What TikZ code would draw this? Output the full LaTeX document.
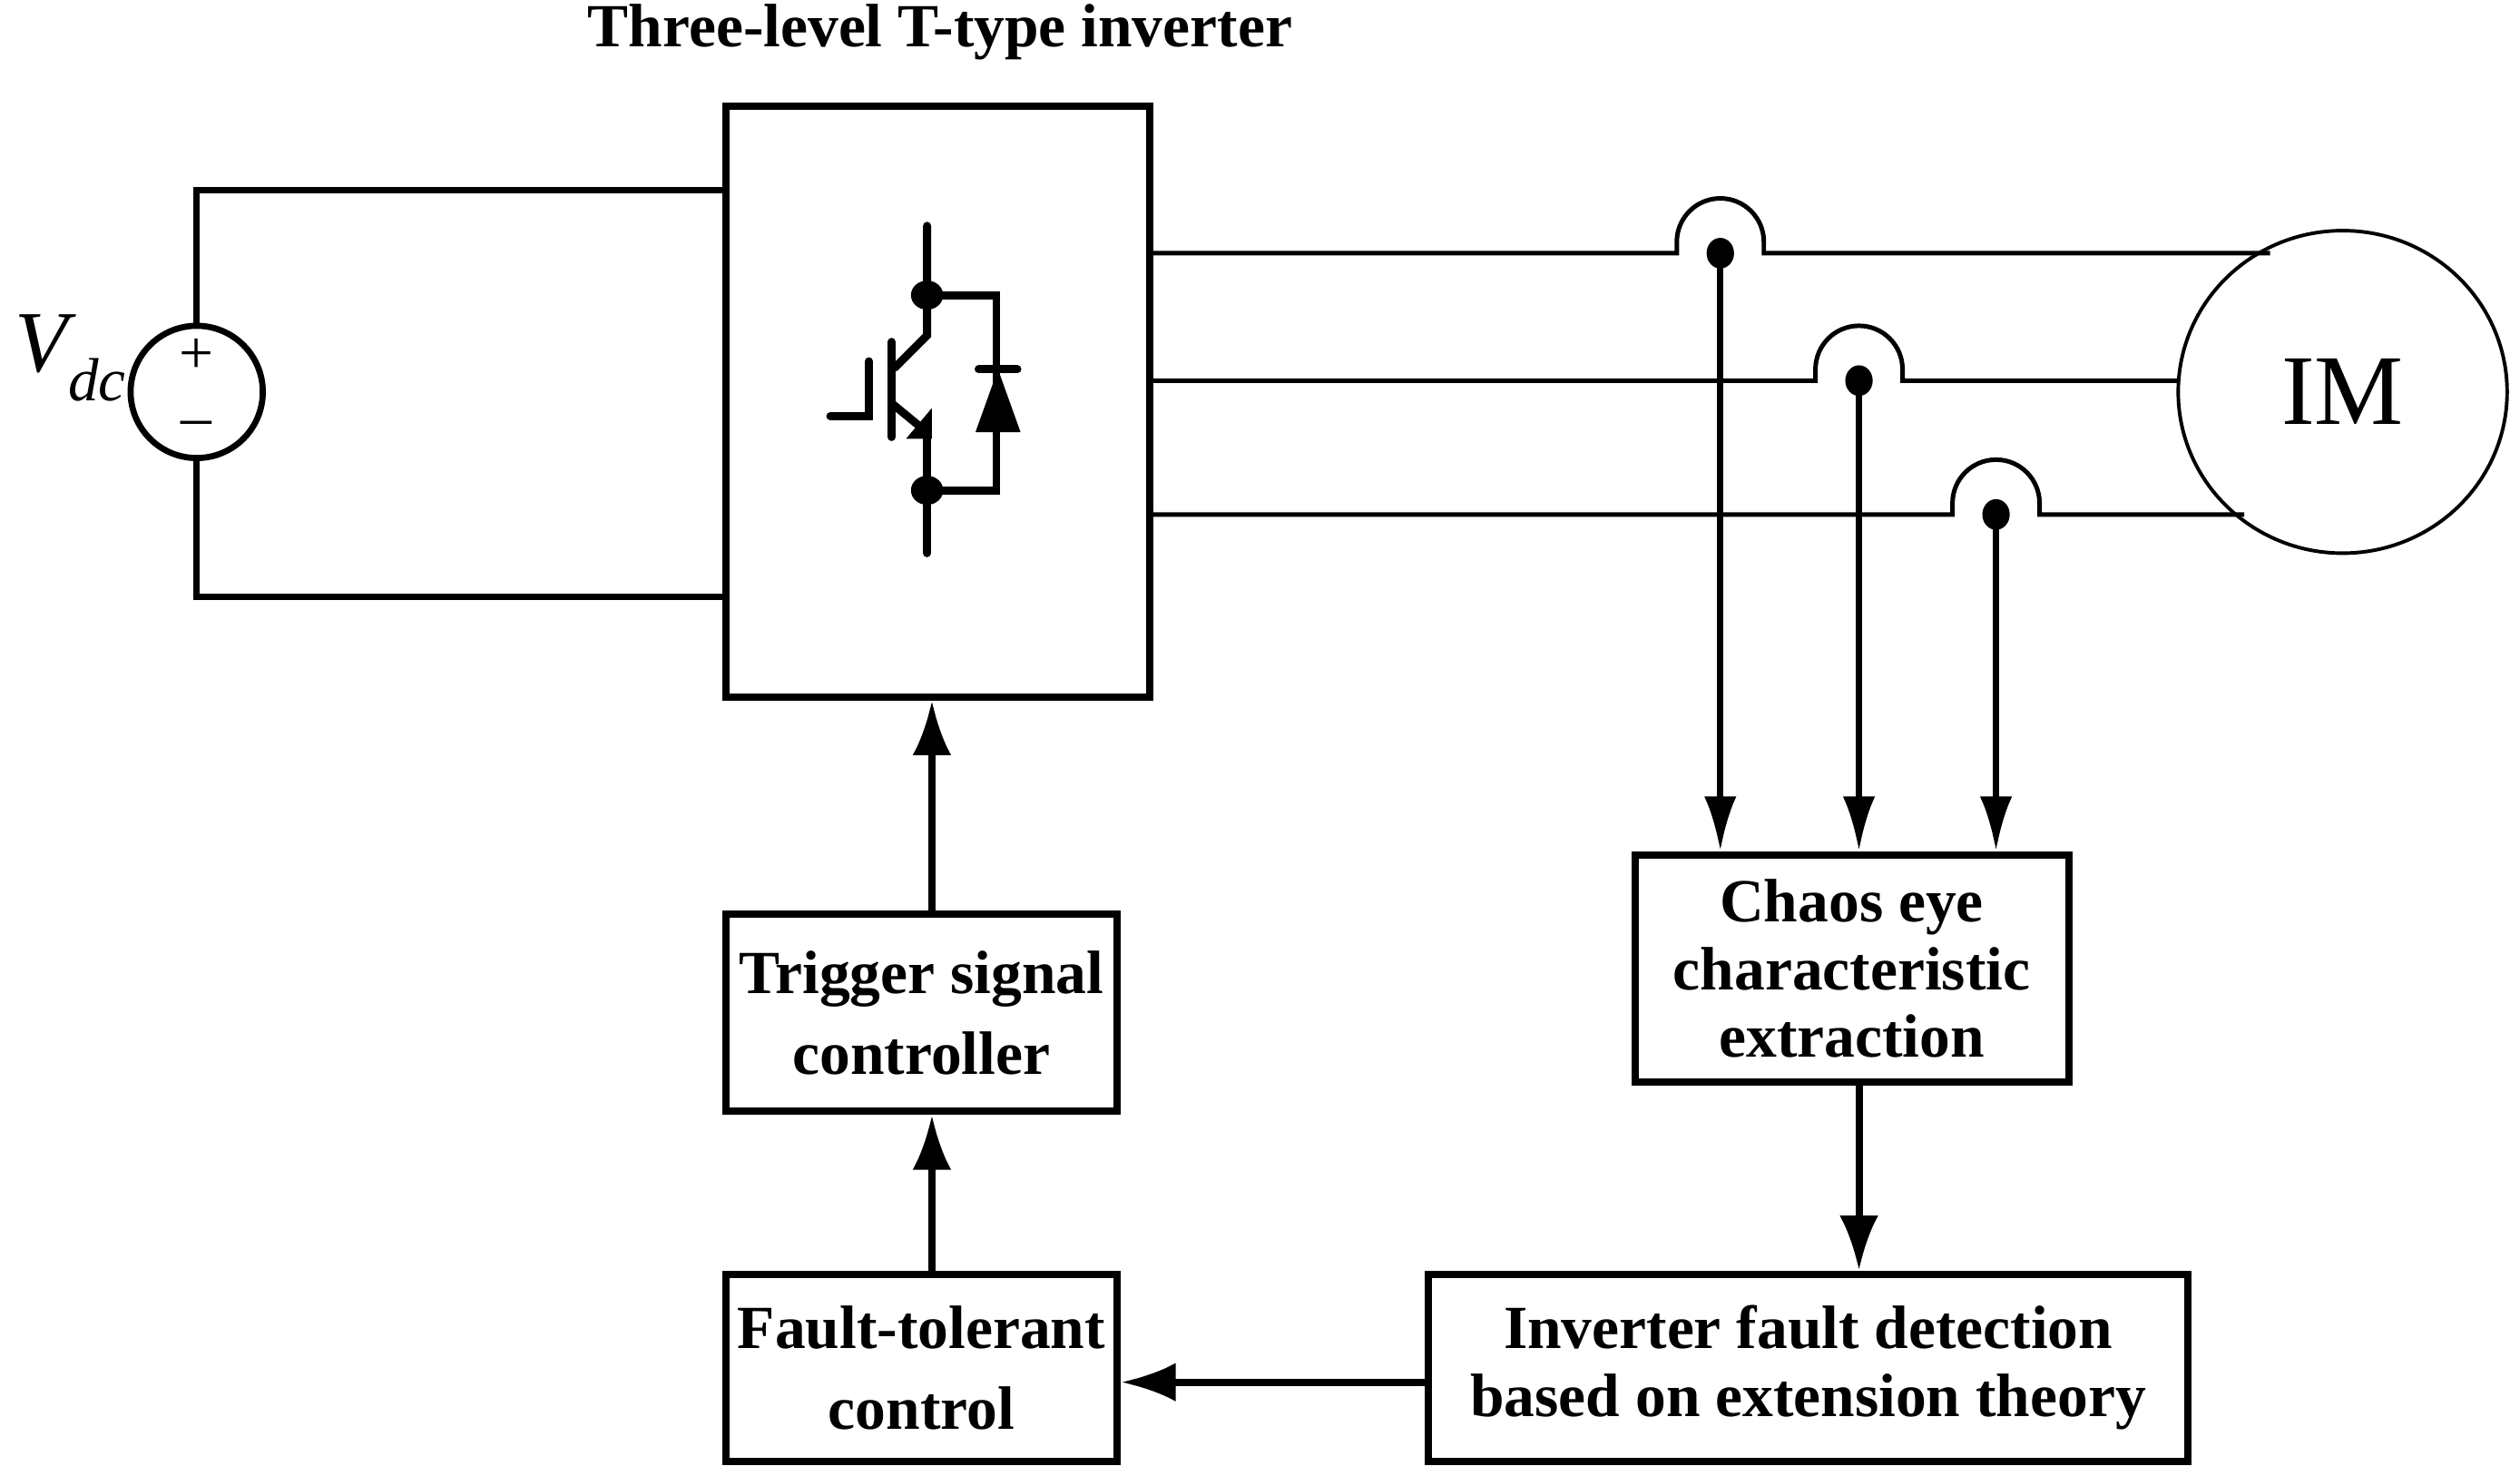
\documentclass[tikz,border=0pt]{standalone}
\usepackage{fontspec}
\setmainfont{Liberation Serif}
\usetikzlibrary{arrows.meta,shapes.geometric}
\begin{document}
\begin{tikzpicture}[x=1pt,y=-1pt,
  box/.style={draw,line width=4.5pt,inner sep=0pt,font=\fontsize{38}{44}\selectfont\bfseries,align=center},
  wire/.style={line width=2.8pt},
  arr/.style={line width=4.5pt,-{Latex[length=34pt,width=24pt]}},
  sarr/.style={line width=4pt,-{Latex[length=34pt,width=20pt]}},
  dot/.style={fill,ellipse,inner sep=0pt}]
\useasboundingbox (0,0) rectangle (1563,915);
\node[font=\fontsize{38}{44}\selectfont\bfseries] (title) at (583,20) {Three-level T-type inverter};
% inverter
\node[box,minimum width=263pt,minimum height=366pt] (inv) at (581.5,249) {};
% source
\node[draw,circle,line width=3.8pt,minimum size=82pt,inner sep=0pt] (src) at (122,243) {};
\node[font=\fontsize{38}{38}\selectfont] (plus) at (122,221) {+};
\node[font=\fontsize{38}{38}\selectfont] (minus) at (122,266) {–};
\node[font=\fontsize{54}{54}\selectfont\itshape] (vdc) at (44,222) {V\textsubscript{dc}};
\coordinate (invtl) at (450,118);
\coordinate (invbl) at (450,370);
\draw[line width=3.8pt] (src.north) |- (invtl);
\draw[line width=3.8pt] (src.south) |- (invbl);
% IGBT
\begin{scope}[line width=5pt,line cap=round]
\draw (575,140) -- (575,208) -- (555,228);
\draw (553,212) -- (553,271);
\draw (515,258) -- (539,258) -- (539,224);
\draw (553,250) -- (570,264);
\draw (575,272) -- (575,343);
\fill (562,272) -- (578,272) -- (578,253) -- cycle;
\draw[line cap=butt] (575,183) -- (618,183) -- (618,304) -- (575,304);
\draw (607,229) -- (631,229);
\fill (605,268) -- (633,268) -- (619,229) -- cycle;
\end{scope}
\node[dot,minimum width=20pt,minimum height=18pt] (d1) at (575,183) {};
\node[dot,minimum width=20pt,minimum height=18pt] (d2) at (575,304) {};
% IM
\node[draw,ellipse,line width=2.2pt,minimum width=204pt,minimum height=200pt,font=\fontsize{62}{62}\selectfont] (im) at (1453,243) {IM};
% phase lines with hops
\coordinate (p1) at (1067,157);
\coordinate (p2) at (1153,236);
\coordinate (p3) at (1238,319);
\draw[wire] (713,157) -- (1040,157) -- (1040,150) arc (180:360:27) -- (1094,157) -- (1408,157);
\draw[wire] (713,236) -- (1126,236) -- (1126,229) arc (180:360:27) -- (1180,236) -- (1352,236);
\draw[wire] (713,319) -- (1211,319) -- (1211,312) arc (180:360:27) -- (1265,319) -- (1392,319);
\node[dot,minimum width=17pt,minimum height=19pt] (s1) at (p1) {};
\node[dot,minimum width=17pt,minimum height=19pt] (s2) at (p2) {};
\node[dot,minimum width=17pt,minimum height=19pt] (s3) at (p3) {};
% boxes
\node[box,minimum width=269pt,minimum height=141pt] (chaos) at (1148.5,600.5) {Chaos eye\\[-2pt]characteristic\\[-2pt]extraction};
\node[box,minimum width=243pt,minimum height=122pt] (trig) at (571.5,628) {Trigger signal\\[6pt]controller};
\node[box,minimum width=243pt,minimum height=116pt] (ftc) at (571.5,848) {Fault-tolerant\\[6pt]control};
\node[box,minimum width=471pt,minimum height=116pt] (ifd) at (1121.5,848) {Inverter fault detection\\[-2pt]based on extension theory};
% arrows
\draw[sarr] (s1.center) -- (s1.center |- chaos.north);
\draw[sarr] (s2.center) -- (s2.center |- chaos.north);
\draw[sarr] (s3.center) -- (s3.center |- chaos.north);
\draw[arr] (trig.north -| 578,0) -- (inv.south -| 578,0);
\draw[arr] (ftc.north -| 578,0) -- (trig.south -| 578,0);
\draw[arr] (chaos.south -| 1153,0) -- (ifd.north -| 1153,0);
\draw[arr] (ifd.west |- 0,857) -- (ftc.east |- 0,857);
\end{tikzpicture}
\end{document}
